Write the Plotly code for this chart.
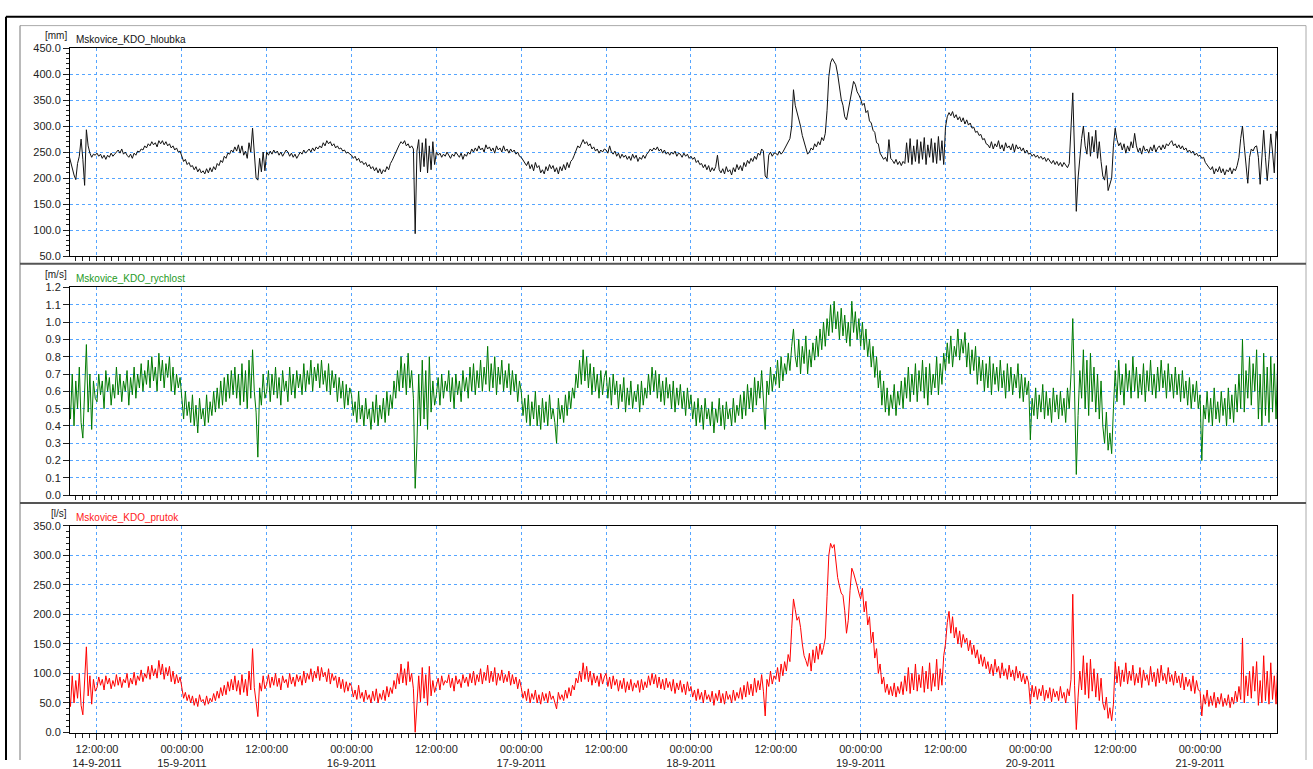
import pandas as pd
import plotly.graph_objects as go

# ---- logger readings, 15-minute step starting 14-9-2011 08:00 ----
# rows: first partial block (16), then 12-hour blocks (48 samples, split in two rows), last partial block (45)
depth_mm = [
    246, 232, 214, 206, 197, 228, 242, 275, 236, 186, 293, 262, 248, 240, 246, 244,
    248, 242, 246, 238, 244, 236, 244, 240, 248, 242, 246, 250, 254, 248, 256, 246, 250, 244, 240, 246, 238, 248, 244, 252,
    250, 256, 254, 262, 258, 266, 262, 270, 264, 268, 260, 272, 266, 272, 264, 270, 262, 266, 258, 262, 254, 258, 250, 252,
    240, 232, 236, 226, 230, 222, 224, 216, 222, 212, 218, 210, 214, 208, 218, 210, 220, 212, 222, 216, 228, 224, 234, 230,
    242, 238, 248, 246, 254, 250, 260, 252, 264, 248, 262, 244, 252, 238, 268, 250, 296, 244, 200, 196, 238, 212, 250, 214,
    250, 244, 252, 246, 254, 248, 252, 244, 250, 242, 248, 254, 250, 242, 248, 240, 246, 238, 244, 250, 246, 254, 248, 252,
    256, 250, 258, 252, 260, 256, 262, 258, 268, 262, 272, 266, 270, 262, 266, 258, 262, 256, 258, 252, 254, 248, 250, 246,
    244, 238, 242, 234, 238, 230, 232, 226, 230, 222, 226, 218, 222, 214, 220, 210, 218, 208, 216, 212, 222, 216, 228, 234,
    242, 250, 258, 264, 270, 266, 272, 262, 266, 258, 262, 256, 93, 252, 274, 212, 268, 222, 276, 210, 262, 216, 270, 226,
    250, 244, 248, 240, 246, 242, 250, 244, 238, 246, 242, 250, 244, 240, 248, 236, 246, 242, 250, 246, 256, 250, 258, 252,
    262, 254, 258, 250, 264, 256, 260, 252, 258, 248, 262, 254, 258, 250, 262, 252, 256, 248, 256, 250, 254, 246, 250, 242,
    240, 234, 228, 224, 232, 218, 226, 214, 230, 220, 224, 210, 216, 208, 222, 214, 226, 218, 224, 212, 220, 208, 222, 214,
    226, 216, 230, 220, 232, 236, 244, 252, 262, 258, 268, 274, 266, 270, 262, 266, 256, 260, 252, 256, 248, 254, 250, 256,
    254, 248, 262, 250, 246, 252, 242, 248, 238, 246, 240, 244, 236, 242, 234, 246, 238, 244, 232, 240, 236, 244, 238, 246,
    250, 256, 252, 258, 254, 260, 252, 256, 248, 254, 246, 250, 244, 250, 246, 252, 242, 248, 246, 240, 248, 242, 246, 238,
    242, 236, 240, 230, 234, 226, 228, 220, 226, 216, 224, 212, 220, 214, 222, 244, 216, 210, 218, 208, 222, 212, 216, 206,
    220, 212, 226, 216, 224, 214, 230, 222, 234, 228, 238, 232, 242, 236, 248, 244, 256, 252, 204, 200, 244, 250, 242, 248,
    248, 244, 252, 246, 250, 256, 262, 270, 276, 300, 370, 340, 326, 318, 300, 282, 272, 258, 246, 250, 258, 254, 266, 260,
    270, 264, 278, 272, 286, 330, 395, 422, 430, 424, 418, 400, 372, 352, 340, 318, 312, 330, 350, 372, 386, 380, 366, 360,
    352, 340, 344, 326, 330, 310, 306, 292, 288, 268, 266, 248, 242, 236, 240, 232, 274, 238, 234, 228, 236, 226, 232, 224,
    232, 228, 268, 230, 276, 226, 262, 232, 274, 228, 270, 236, 278, 226, 264, 240, 276, 230, 268, 228, 280, 234, 272, 226,
    298, 318, 326, 320, 328, 316, 322, 312, 318, 308, 316, 304, 312, 302, 306, 296, 298, 288, 290, 282, 284, 274, 276, 266,
    264, 258, 270, 256, 266, 260, 272, 256, 264, 252, 268, 258, 262, 254, 266, 250, 264, 256, 260, 252, 258, 248, 254, 246,
    248, 242, 246, 240, 244, 238, 242, 236, 240, 232, 238, 234, 228, 234, 226, 232, 224, 230, 222, 230, 226, 220, 228, 300,
    364, 250, 136, 200, 240, 276, 300, 262, 246, 288, 242, 280, 250, 292, 238, 270, 232, 204, 196, 224, 176, 186, 200, 262,
    296, 274, 262, 268, 254, 266, 248, 262, 252, 270, 258, 286, 262, 250, 258, 246, 262, 252, 256, 248, 260, 252, 264, 250,
    258, 262, 254, 264, 256, 266, 262, 268, 272, 262, 266, 258, 264, 256, 262, 254, 258, 250, 254, 248, 252, 244, 248, 242,
    244, 238, 240, 230, 226, 220, 216, 222, 208, 218, 212, 222, 210, 218, 206, 216, 212, 220, 208, 218, 214, 224, 240, 276,
    300, 262, 232, 190, 240, 256, 252, 260, 262, 240, 188, 250, 292, 240, 195, 236, 285, 250, 210, 290, 268,
]

velocity_ms = [
    0.60, 0.44, 0.70, 0.40, 0.66, 0.50, 0.74, 0.42, 0.33, 0.62, 0.87, 0.48, 0.70, 0.38, 0.66, 0.56,
    0.54, 0.70, 0.58, 0.66, 0.50, 0.72, 0.60, 0.68, 0.52, 0.64, 0.56, 0.74, 0.58, 0.70, 0.54, 0.66, 0.60, 0.72, 0.52, 0.68, 0.58, 0.74, 0.56, 0.70,
    0.62, 0.76, 0.60, 0.72, 0.64, 0.78, 0.62, 0.80, 0.66, 0.74, 0.60, 0.82, 0.66, 0.78, 0.62, 0.76, 0.68, 0.80, 0.60, 0.74, 0.58, 0.70, 0.62, 0.68,
    0.56, 0.44, 0.60, 0.46, 0.54, 0.42, 0.58, 0.40, 0.52, 0.36, 0.56, 0.44, 0.50, 0.40, 0.58, 0.42, 0.54, 0.46, 0.60, 0.48, 0.62, 0.50, 0.66, 0.52,
    0.68, 0.54, 0.70, 0.56, 0.72, 0.58, 0.74, 0.56, 0.70, 0.52, 0.76, 0.54, 0.72, 0.50, 0.78, 0.56, 0.84, 0.60, 0.48, 0.22, 0.62, 0.52, 0.70, 0.56,
    0.60, 0.72, 0.54, 0.70, 0.58, 0.74, 0.56, 0.68, 0.52, 0.72, 0.60, 0.66, 0.54, 0.74, 0.58, 0.70, 0.56, 0.72, 0.62, 0.70, 0.58, 0.76, 0.60, 0.72,
    0.64, 0.78, 0.60, 0.74, 0.66, 0.76, 0.62, 0.78, 0.64, 0.72, 0.60, 0.76, 0.58, 0.72, 0.62, 0.70, 0.54, 0.68, 0.56, 0.66, 0.50, 0.64, 0.52, 0.62,
    0.58, 0.46, 0.54, 0.42, 0.60, 0.44, 0.52, 0.40, 0.56, 0.44, 0.50, 0.38, 0.54, 0.42, 0.58, 0.40, 0.52, 0.44, 0.56, 0.42, 0.60, 0.46, 0.58, 0.50,
    0.66, 0.56, 0.72, 0.60, 0.80, 0.62, 0.76, 0.58, 0.82, 0.62, 0.72, 0.56, 0.04, 0.30, 0.70, 0.40, 0.78, 0.44, 0.72, 0.38, 0.80, 0.48, 0.66, 0.52,
    0.58, 0.68, 0.52, 0.70, 0.56, 0.66, 0.60, 0.72, 0.54, 0.68, 0.50, 0.70, 0.58, 0.66, 0.54, 0.72, 0.60, 0.68, 0.56, 0.74, 0.60, 0.76, 0.58, 0.72,
    0.62, 0.78, 0.60, 0.74, 0.64, 0.86, 0.60, 0.76, 0.62, 0.80, 0.58, 0.74, 0.64, 0.78, 0.60, 0.72, 0.62, 0.76, 0.58, 0.72, 0.60, 0.70, 0.54, 0.66,
    0.60, 0.46, 0.56, 0.42, 0.58, 0.40, 0.54, 0.44, 0.60, 0.40, 0.52, 0.38, 0.56, 0.42, 0.54, 0.40, 0.58, 0.44, 0.50, 0.42, 0.30, 0.56, 0.44, 0.52,
    0.42, 0.58, 0.46, 0.60, 0.50, 0.62, 0.56, 0.70, 0.62, 0.78, 0.64, 0.84, 0.66, 0.80, 0.62, 0.76, 0.58, 0.74, 0.60, 0.70, 0.56, 0.72, 0.58, 0.68,
    0.72, 0.56, 0.68, 0.52, 0.70, 0.58, 0.66, 0.50, 0.64, 0.54, 0.68, 0.48, 0.62, 0.52, 0.66, 0.50, 0.60, 0.54, 0.64, 0.48, 0.66, 0.52, 0.62, 0.56,
    0.70, 0.58, 0.74, 0.60, 0.72, 0.56, 0.70, 0.54, 0.66, 0.52, 0.68, 0.56, 0.64, 0.50, 0.66, 0.48, 0.62, 0.52, 0.64, 0.50, 0.60, 0.46, 0.62, 0.50,
    0.58, 0.44, 0.54, 0.40, 0.56, 0.42, 0.52, 0.38, 0.56, 0.44, 0.50, 0.40, 0.54, 0.36, 0.50, 0.42, 0.56, 0.40, 0.52, 0.38, 0.54, 0.44, 0.50, 0.40,
    0.56, 0.42, 0.52, 0.46, 0.58, 0.44, 0.60, 0.46, 0.64, 0.50, 0.62, 0.48, 0.68, 0.52, 0.66, 0.56, 0.72, 0.54, 0.38, 0.66, 0.58, 0.74, 0.60, 0.70,
    0.64, 0.78, 0.62, 0.80, 0.66, 0.76, 0.70, 0.82, 0.72, 0.86, 0.96, 0.80, 0.74, 0.90, 0.70, 0.86, 0.76, 0.92, 0.70, 0.84, 0.74, 0.88, 0.78, 0.92,
    0.80, 0.96, 0.84, 1.00, 0.86, 1.02, 0.92, 1.10, 0.94, 1.12, 0.96, 1.06, 0.90, 1.08, 0.92, 1.04, 0.88, 1.00, 0.86, 1.12, 0.94, 1.06, 0.90, 1.02,
    0.86, 1.00, 0.84, 0.96, 0.80, 0.90, 0.74, 0.86, 0.68, 0.80, 0.62, 0.72, 0.52, 0.66, 0.48, 0.62, 0.46, 0.58, 0.50, 0.64, 0.46, 0.60, 0.52, 0.66,
    0.50, 0.68, 0.56, 0.74, 0.54, 0.70, 0.58, 0.76, 0.54, 0.72, 0.60, 0.78, 0.56, 0.74, 0.52, 0.76, 0.58, 0.70, 0.62, 0.80, 0.58, 0.76, 0.64, 0.82,
    0.72, 0.88, 0.76, 0.92, 0.74, 0.86, 0.80, 0.96, 0.78, 0.90, 0.82, 0.94, 0.74, 0.88, 0.70, 0.84, 0.72, 0.86, 0.64, 0.80, 0.66, 0.78, 0.60, 0.76,
    0.62, 0.80, 0.58, 0.76, 0.64, 0.74, 0.60, 0.78, 0.62, 0.72, 0.56, 0.76, 0.60, 0.74, 0.58, 0.70, 0.62, 0.76, 0.56, 0.70, 0.54, 0.68, 0.58, 0.66,
    0.32, 0.56, 0.46, 0.62, 0.44, 0.58, 0.48, 0.64, 0.44, 0.60, 0.46, 0.56, 0.42, 0.62, 0.48, 0.58, 0.44, 0.60, 0.46, 0.56, 0.42, 0.62, 0.50, 0.70,
    1.02, 0.60, 0.12, 0.46, 0.72, 0.56, 0.84, 0.50, 0.78, 0.46, 0.82, 0.54, 0.74, 0.48, 0.70, 0.44, 0.66, 0.40, 0.30, 0.48, 0.26, 0.36, 0.24, 0.50,
    0.72, 0.54, 0.78, 0.58, 0.70, 0.52, 0.76, 0.60, 0.72, 0.56, 0.80, 0.60, 0.74, 0.56, 0.70, 0.58, 0.76, 0.54, 0.72, 0.60, 0.78, 0.58, 0.70, 0.56,
    0.74, 0.60, 0.78, 0.62, 0.72, 0.56, 0.76, 0.60, 0.70, 0.56, 0.74, 0.58, 0.70, 0.54, 0.72, 0.56, 0.66, 0.52, 0.68, 0.50, 0.64, 0.54, 0.66, 0.50,
    0.58, 0.20, 0.52, 0.44, 0.60, 0.42, 0.56, 0.40, 0.62, 0.44, 0.54, 0.42, 0.60, 0.46, 0.56, 0.40, 0.62, 0.44, 0.58, 0.42, 0.64, 0.48, 0.70, 0.50,
    0.90, 0.48, 0.72, 0.56, 0.80, 0.52, 0.76, 0.60, 0.84, 0.44, 0.70, 0.40, 0.82, 0.46, 0.74, 0.42, 0.80, 0.48, 0.76, 0.44, 0.80,
]

flow_ls = [
    72, 44, 96, 50, 88, 58, 100, 46, 30, 80, 145, 62, 96, 48, 90, 70,
    76, 94, 80, 90, 72, 96, 82, 92, 74, 88, 78, 98, 80, 94, 76, 90, 84, 100, 76, 92, 82, 102, 80, 96,
    88, 106, 86, 100, 92, 112, 90, 114, 96, 108, 92, 122, 98, 116, 90, 110, 96, 112, 86, 104, 82, 98, 84, 94,
    74, 58, 68, 54, 64, 50, 62, 46, 58, 44, 64, 52, 56, 46, 62, 48, 58, 52, 66, 54, 70, 58, 76, 62,
    80, 64, 86, 70, 90, 72, 96, 70, 88, 64, 98, 68, 90, 62, 104, 72, 142, 76, 52, 27, 84, 70, 96, 74,
    82, 98, 76, 94, 80, 100, 78, 92, 72, 96, 84, 90, 76, 100, 82, 94, 78, 98, 86, 96, 80, 104, 84, 100,
    90, 108, 86, 104, 92, 112, 88, 110, 94, 102, 86, 108, 82, 100, 88, 96, 76, 94, 74, 90, 68, 86, 70, 84,
    78, 60, 72, 56, 80, 58, 68, 52, 72, 56, 64, 50, 70, 54, 74, 50, 66, 56, 72, 54, 78, 60, 76, 66,
    88, 74, 100, 82, 116, 84, 108, 80, 120, 86, 100, 74, 0, 40, 96, 52, 110, 58, 98, 46, 112, 62, 88, 68,
    78, 92, 72, 96, 80, 88, 84, 98, 76, 92, 70, 96, 82, 90, 76, 98, 84, 94, 78, 100, 84, 104, 80, 98,
    86, 108, 82, 102, 88, 114, 84, 104, 86, 110, 80, 100, 88, 106, 84, 98, 86, 104, 80, 98, 82, 94, 74, 90,
    76, 58, 70, 54, 74, 50, 66, 56, 72, 50, 64, 48, 68, 54, 66, 50, 70, 56, 62, 52, 40, 68, 56, 64,
    54, 72, 58, 76, 62, 80, 72, 92, 84, 104, 86, 118, 90, 112, 86, 104, 80, 100, 84, 96, 78, 100, 82, 94,
    100, 78, 94, 74, 96, 80, 90, 70, 88, 74, 92, 68, 86, 72, 90, 70, 84, 76, 88, 68, 90, 72, 86, 76,
    96, 80, 100, 82, 98, 76, 94, 74, 90, 72, 92, 76, 86, 70, 90, 66, 84, 72, 88, 68, 82, 64, 86, 70,
    78, 60, 72, 54, 74, 56, 68, 50, 72, 56, 64, 52, 70, 46, 66, 54, 72, 50, 66, 48, 70, 56, 64, 50,
    72, 54, 68, 58, 76, 56, 80, 60, 86, 64, 82, 62, 92, 68, 88, 72, 98, 70, 28, 90, 78, 104, 82, 96,
    90, 110, 86, 116, 96, 120, 104, 132, 120, 176, 226, 208, 190, 196, 178, 150, 130, 122, 112, 134, 104, 140, 118, 146,
    124, 150, 132, 144, 160, 230, 300, 320, 312, 318, 290, 262, 248, 236, 232, 206, 168, 190, 240, 278, 270, 256, 248, 236,
    226, 244, 204, 222, 182, 196, 152, 170, 126, 142, 100, 116, 82, 94, 68, 82, 64, 78, 62, 84, 60, 78, 66, 86,
    64, 96, 70, 110, 66, 100, 72, 116, 70, 98, 76, 112, 68, 104, 74, 118, 70, 100, 78, 124, 72, 108, 80, 130,
    150, 186, 205, 168, 196, 160, 178, 150, 172, 144, 166, 152, 160, 138, 156, 132, 148, 126, 140, 116, 132, 112, 128, 108,
    120, 100, 116, 96, 124, 102, 112, 92, 118, 96, 108, 90, 114, 94, 106, 88, 112, 92, 104, 86, 100, 82, 96, 84,
    48, 80, 60, 78, 56, 74, 62, 80, 54, 72, 58, 76, 52, 74, 60, 70, 54, 78, 58, 68, 50, 74, 62, 90,
    234, 80, 5, 60, 104, 72, 130, 64, 118, 58, 124, 70, 108, 60, 100, 54, 92, 50, 38, 60, 24, 42, 20, 48,
    120, 84, 112, 78, 106, 86, 118, 82, 104, 88, 114, 80, 100, 84, 110, 76, 106, 88, 98, 80, 112, 86, 102, 78,
    108, 84, 114, 88, 100, 82, 110, 86, 98, 80, 104, 84, 96, 76, 100, 72, 94, 78, 90, 70, 96, 66, 88, 72,
    70, 28, 64, 48, 72, 44, 62, 46, 68, 42, 60, 48, 66, 44, 58, 46, 64, 42, 60, 48, 70, 52, 78, 56,
    160, 50, 96, 62, 104, 58, 112, 70, 120, 46, 88, 50, 130, 54, 104, 48, 118, 56, 96, 48, 122,
]

# x-axis tick positions and their labels
tick_times = pd.date_range("2011-09-14 12:00", "2011-09-21 00:00", freq="12h")
tick_labels = [
    "12:00:00<br>14-9-2011", "00:00:00<br>15-9-2011", "12:00:00", "00:00:00<br>16-9-2011",
    "12:00:00", "00:00:00<br>17-9-2011", "12:00:00", "00:00:00<br>18-9-2011",
    "12:00:00", "00:00:00<br>19-9-2011", "12:00:00", "00:00:00<br>20-9-2011",
    "12:00:00", "00:00:00<br>21-9-2011",
]

times = pd.date_range("2011-09-14 08:00", periods=len(depth_mm), freq="15min")

W, H = 1313, 769
FONT = "Liberation Sans, Arial, sans-serif"
GRID = "#55a5ff"


def px(x):
    return x / W


def py(y):
    return 1 - y / H


x_left, x_right = 70, 1277
panels = [  # (top px, bottom px)
    (43, 255),
    (287, 499),
    (530, 741),
]

fig = go.Figure()
fig.add_trace(go.Scatter(x=times, y=depth_mm, mode="lines", line=dict(color="#111111", width=1),
                         xaxis="x", yaxis="y", hoverinfo="skip"))
fig.add_trace(go.Scatter(x=times, y=velocity_ms, mode="lines", line=dict(color="#007a00", width=1),
                         xaxis="x2", yaxis="y2", hoverinfo="skip"))
fig.add_trace(go.Scatter(x=times, y=flow_ls, mode="lines", line=dict(color="#ff0000", width=1),
                         xaxis="x3", yaxis="y3", hoverinfo="skip"))

x_range = ["2011-09-14 08:11", "2011-09-21 10:53"]


def xaxis_cfg(anchor, show_labels):
    return dict(
        type="date", range=x_range, domain=[px(x_left), px(x_right)], anchor=anchor,
        tickmode="array", tickvals=tick_times, ticktext=tick_labels if show_labels else [""] * len(tick_times),
        showticklabels=show_labels, ticks="outside", ticklen=6, tickwidth=1, tickcolor="#222",
        showline=True, linecolor="#000", linewidth=1, mirror=True,
        showgrid=True, gridcolor=GRID, griddash="dot", gridwidth=1, zeroline=False,
        minor=dict(tickmode="linear", tick0="2011-09-14 00:00", dtick=3600000, ticks="outside",
                   ticklen=4, tickcolor="#222", showgrid=False),
        tickfont=dict(family=FONT, size=11, color="#222"),
    )


def yaxis_cfg(anchor, top, bottom, rng, dtick, minor_dtick):
    cfg = dict(
        domain=[py(bottom), py(top)], anchor=anchor, range=rng, tickmode="linear", tick0=0, dtick=dtick,
        tickformat=".1f", ticks="outside", ticklen=6, tickwidth=1, tickcolor="#222",
        showline=True, linecolor="#000", linewidth=1, mirror=True,
        showgrid=True, gridcolor=GRID, griddash="dot", gridwidth=1, zeroline=False,
        tickfont=dict(family=FONT, size=11, color="#222"),
    )
    if minor_dtick:
        cfg["minor"] = dict(tickmode="linear", tick0=0, dtick=minor_dtick, ticks="outside",
                            ticklen=3, tickcolor="#222", showgrid=False)
    return cfg


fig.update_layout(
    width=W, height=H, margin=dict(l=0, r=0, t=0, b=0),
    paper_bgcolor="white", plot_bgcolor="white", showlegend=False,
    xaxis=xaxis_cfg("y", False),
    xaxis2=xaxis_cfg("y2", False),
    xaxis3=xaxis_cfg("y3", True),
    yaxis=yaxis_cfg("x", *panels[0], [50, 450], 50, 10),
    yaxis2=yaxis_cfg("x2", *panels[1], [0, 1.2], 0.1, None),
    yaxis3=yaxis_cfg("x3", *panels[2], [0, 350], 50, 10),
)

# panel captions: unit and channel name
captions = [
    ("[mm]", "Mskovice_KDO_hloubka", "#111111", panels[0][0]),
    ("[m/s]", "Mskovice_KDO_rychlost", "#1e9a1e", panels[1][0]),
    ("[l/s]", "Mskovice_KDO_prutok", "#ff2020", panels[2][0]),
]
for unit, name, color, top in captions:
    fig.add_annotation(x=px(69), y=py(top - 5), xref="paper", yref="paper", text=unit, showarrow=False,
                       xanchor="right", yanchor="bottom", font=dict(family=FONT, size=10, color="#222"))
    fig.add_annotation(x=px(74), y=py(top - 1), xref="paper", yref="paper", text=name, showarrow=False,
                       xanchor="left", yanchor="bottom", font=dict(family=FONT, size=10, color=color))

# page frame and panel separators
frame = [
    dict(type="line", x0=px(6), x1=1, y0=py(11), y1=py(11), line=dict(color="#000", width=2)),
    dict(type="line", x0=px(6), x1=px(6), y0=py(11), y1=0, line=dict(color="#000", width=2)),
    dict(type="line", x0=px(20), x1=px(1306), y0=py(20), y1=py(20), line=dict(color="#aaaaaa", width=1)),
    dict(type="line", x0=px(20), x1=px(20), y0=py(20), y1=0, line=dict(color="#777777", width=1)),
    dict(type="line", x0=px(1306), x1=px(1306), y0=py(20), y1=0, line=dict(color="#aaaaaa", width=1)),
    dict(type="line", x0=px(20), x1=px(1306), y0=py(263), y1=py(263), line=dict(color="#555555", width=2)),
    dict(type="line", x0=px(20), x1=px(1306), y0=py(507), y1=py(507), line=dict(color="#555555", width=2)),
]
for s in frame:
    s.update(xref="paper", yref="paper", layer="above")
fig.update_layout(shapes=frame)

fig.write_html("out.html")
